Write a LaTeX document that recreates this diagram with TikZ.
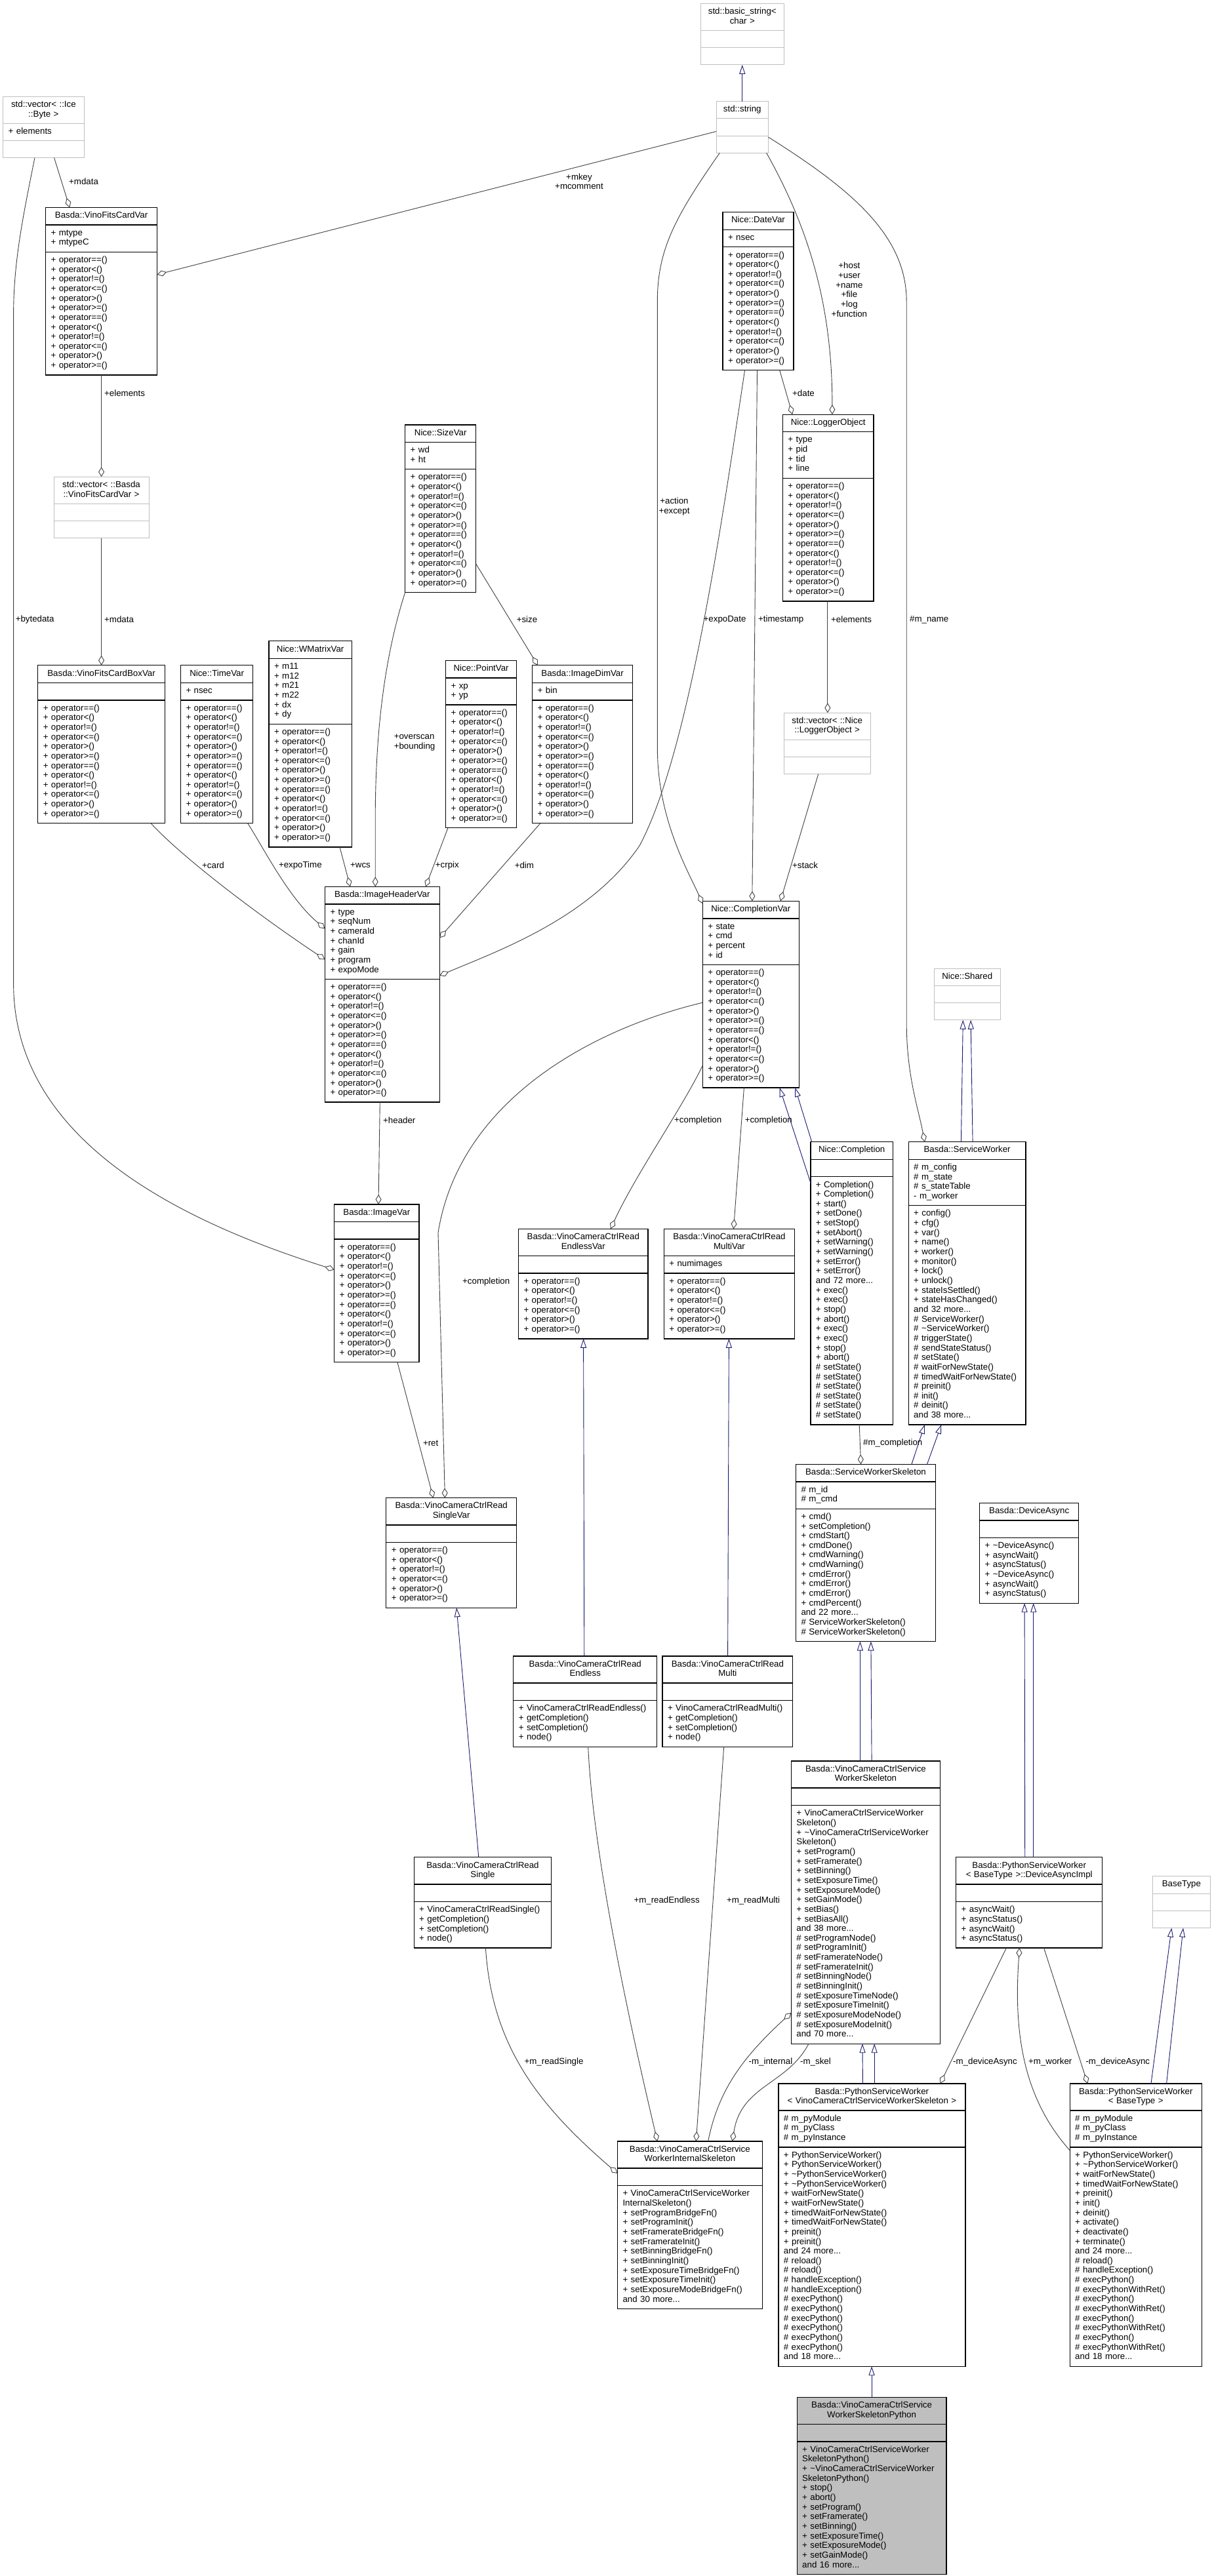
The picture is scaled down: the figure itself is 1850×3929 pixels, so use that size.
\documentclass[tikz,border=0pt]{standalone}
\usepackage{fontspec}
\setmainfont{Liberation Sans}
\usetikzlibrary{positioning,shapes.multipart,arrows.meta}

\definecolor{aggline}{HTML}{404040}
\definecolor{inhline}{HTML}{191970}
\definecolor{extgray}{HTML}{BFBFBF}
\definecolor{mainfill}{HTML}{BFBFBF}

\newcommand\umlfont{\fontsize{13.3}{14.65}\selectfont}
\newcommand\ctitle[1]{\centering\strut#1\strut\par}
\newcommand\cpart[1]{\raggedright\strut#1\strut\par}
\newcommand\tld{\textasciitilde}
\newcommand\opsix{+ operator==()\\+ operator<()\\+ operator!=()\\+ operator<=()\\+ operator>()\\+ operator>=()}
\newcommand\optwelve{\opsix\\\opsix}

\begin{document}
\begin{tikzpicture}[x=1pt,y=-1pt,
  cls/.style={rectangle split, rectangle split parts=3, draw=black, line width=1.3pt,
    fill=white, inner xsep=8pt, inner ysep=5.3pt, outer sep=0pt, anchor=north west,
    font=\umlfont},
  extcls/.style={cls, draw=extgray, line width=1pt},
  maincls/.style={cls, fill=mainfill},
  agg/.style={draw=aggline, line width=0.9pt, -{Diamond[open, length=15pt, width=9pt]}},
  inh/.style={draw=inhline, line width=0.9pt, -{Triangle[open, length=14pt, width=9pt]}},
  lbl/.style={font=\umlfont, inner sep=0pt, anchor=west}]
\useasboundingbox (0,0) rectangle (1850,3929);
\fill[white] (0,0) rectangle (1850,3929);

% classes
\node[extcls, text width=111pt] (basicstr) at (1068.3,5.5) {\ctitle{std::basic\_string<\\char >}\nodepart{two}\cpart{}\nodepart{three}\cpart{}};
\node[extcls, text width=63.6pt] (stdstr) at (1092,154.5) {\ctitle{std::string}\nodepart{two}\cpart{}\nodepart{three}\cpart{}};
\node[extcls, text width=107.3pt] (vicebyte) at (4.7,147.3) {\ctitle{std::vector< ::Ice\\::Byte >}\nodepart{two}\cpart{+ elements}\nodepart{three}\cpart{}};
\node[cls, text width=154pt] (fitscard) at (69.6,316.5) {\ctitle{Basda::VinoFitsCardVar}\nodepart{two}\cpart{+ mtype\\+ mtypeC}\nodepart{three}\cpart{\optwelve}};
\node[extcls, text width=129pt] (vfitscard) at (82,727.3) {\ctitle{std::vector< ::Basda\\::VinoFitsCardVar >}\nodepart{two}\cpart{}\nodepart{three}\cpart{}};
\node[cls, text width=177.5pt] (fitsbox) at (57.8,1014.8) {\ctitle{Basda::VinoFitsCardBoxVar}\nodepart{two}\cpart{}\nodepart{three}\cpart{\optwelve}};
\node[cls, text width=94.3pt] (timevar) at (275.5,1014.8) {\ctitle{Nice::TimeVar}\nodepart{two}\cpart{+ nsec}\nodepart{three}\cpart{\optwelve}};
\node[cls, text width=110.3pt] (wmatrix) at (410,977.8) {\ctitle{Nice::WMatrixVar}\nodepart{two}\cpart{+ m11\\+ m12\\+ m21\\+ m22\\+ dx\\+ dy}\nodepart{three}\cpart{\optwelve}};
\node[cls, text width=92pt] (sizevar) at (617.7,648) {\ctitle{Nice::SizeVar}\nodepart{two}\cpart{+ wd\\+ ht}\nodepart{three}\cpart{\optwelve}};
\node[cls, text width=92pt] (pointvar) at (679.6,1007.3) {\ctitle{Nice::PointVar}\nodepart{two}\cpart{+ xp\\+ yp}\nodepart{three}\cpart{\optwelve}};
\node[cls, text width=136.8pt] (imgdim) at (811.7,1014.8) {\ctitle{Basda::ImageDimVar}\nodepart{two}\cpart{+ bin}\nodepart{three}\cpart{\optwelve}};
\node[cls, text width=92pt] (datevar) at (1102,323.7) {\ctitle{Nice::DateVar}\nodepart{two}\cpart{+ nsec}\nodepart{three}\cpart{\optwelve}};
\node[cls, text width=122.6pt] (logobj) at (1193.4,632.2) {\ctitle{Nice::LoggerObject}\nodepart{two}\cpart{+ type\\+ pid\\+ tid\\+ line}\nodepart{three}\cpart{\optwelve}};
\node[extcls, text width=116pt] (vlogobj) at (1195.2,1087.2) {\ctitle{std::vector< ::Nice\\::LoggerObject >}\nodepart{two}\cpart{}\nodepart{three}\cpart{}};
\node[cls, text width=158.7pt] (imghdr) at (495.5,1352.4) {\ctitle{Basda::ImageHeaderVar}\nodepart{two}\cpart{+ type\\+ seqNum\\+ cameraId\\+ chanId\\+ gain\\+ program\\+ expoMode}\nodepart{three}\cpart{\optwelve}};
\node[cls, text width=130.9pt] (compvar) at (1071.3,1374.3) {\ctitle{Nice::CompletionVar}\nodepart{two}\cpart{+ state\\+ cmd\\+ percent\\+ id}\nodepart{three}\cpart{\optwelve}};
\node[extcls, text width=85.5pt] (shared) at (1424,1477) {\ctitle{Nice::Shared}\nodepart{two}\cpart{}\nodepart{three}\cpart{}};
\node[cls, text width=113.2pt] (imgvar) at (509.7,1836.9) {\ctitle{Basda::ImageVar}\nodepart{two}\cpart{}\nodepart{three}\cpart{\optwelve}};
\node[cls, text width=181.6pt] (endlessvar) at (790.5,1874.3) {\ctitle{Basda::VinoCameraCtrlRead\\EndlessVar}\nodepart{two}\cpart{}\nodepart{three}\cpart{\opsix}};
\node[cls, text width=183.4pt] (multivar) at (1012.3,1874.3) {\ctitle{Basda::VinoCameraCtrlRead\\MultiVar}\nodepart{two}\cpart{+ numimages}\nodepart{three}\cpart{\opsix}};
\node[cls, text width=109.6pt] (completion) at (1235.9,1741.7) {\ctitle{Nice::Completion}\nodepart{two}\cpart{}\nodepart{three}\cpart{+ Completion()\\+ Completion()\\+ start()\\+ setDone()\\+ setStop()\\+ setAbort()\\+ setWarning()\\+ setWarning()\\+ setError()\\+ setError()\\and 72 more...\\+ exec()\\+ exec()\\+ stop()\\+ abort()\\+ exec()\\+ exec()\\+ stop()\\+ abort()\\\# setState()\\\# setState()\\\# setState()\\\# setState()\\\# setState()\\\# setState()}};
\node[cls, text width=162.7pt] (servworker) at (1385.2,1741.7) {\ctitle{Basda::ServiceWorker}\nodepart{two}\cpart{\# m\_config\\\# m\_state\\\# s\_stateTable\\- m\_worker}\nodepart{three}\cpart{+ config()\\+ cfg()\\+ var()\\+ name()\\+ worker()\\+ monitor()\\+ lock()\\+ unlock()\\+ stateIsSettled()\\+ stateHasChanged()\\and 32 more...\\\# ServiceWorker()\\\# \tld ServiceWorker()\\\# triggerState()\\\# sendStateStatus()\\\# setState()\\\# waitForNewState()\\\# timedWaitForNewState()\\\# preinit()\\\# init()\\\# deinit()\\and 38 more...}};
\node[cls, text width=182.8pt] (singlevar) at (588.8,2284.7) {\ctitle{Basda::VinoCameraCtrlRead\\SingleVar}\nodepart{two}\cpart{}\nodepart{three}\cpart{\opsix}};
\node[cls, text width=196.9pt] (swskel) at (1213.5,2233.4) {\ctitle{Basda::ServiceWorkerSkeleton}\nodepart{two}\cpart{\# m\_id\\\# m\_cmd}\nodepart{three}\cpart{+ cmd()\\+ setCompletion()\\+ cmdStart()\\+ cmdDone()\\+ cmdWarning()\\+ cmdWarning()\\+ cmdError()\\+ cmdError()\\+ cmdError()\\+ cmdPercent()\\and 22 more...\\\# ServiceWorkerSkeleton()\\\# ServiceWorkerSkeleton()}};
\node[cls, text width=135pt] (devasync) at (1493.7,2292.3) {\ctitle{Basda::DeviceAsync}\nodepart{two}\cpart{}\nodepart{three}\cpart{+ \tld DeviceAsync()\\+ asyncWait()\\+ asyncStatus()\\+ \tld DeviceAsync()\\+ asyncWait()\\+ asyncStatus()}};
\node[cls, text width=202.9pt] (readendless) at (782.8,2525.9) {\ctitle{Basda::VinoCameraCtrlRead\\Endless}\nodepart{two}\cpart{}\nodepart{three}\cpart{+ VinoCameraCtrlReadEndless()\\+ getCompletion()\\+ setCompletion()\\+ node()}};
\node[cls, text width=182.8pt] (readmulti) at (1010,2525.9) {\ctitle{Basda::VinoCameraCtrlRead\\Multi}\nodepart{two}\cpart{}\nodepart{three}\cpart{+ VinoCameraCtrlReadMulti()\\+ getCompletion()\\+ setCompletion()\\+ node()}};
\node[cls, text width=193.5pt] (readsingle) at (631.2,2832.8) {\ctitle{Basda::VinoCameraCtrlRead\\Single}\nodepart{two}\cpart{}\nodepart{three}\cpart{+ VinoCameraCtrlReadSingle()\\+ getCompletion()\\+ setCompletion()\\+ node()}};
\node[cls, text width=211.1pt] (vccsws) at (1206.4,2685.9) {\ctitle{Basda::VinoCameraCtrlService\\WorkerSkeleton}\nodepart{two}\cpart{}\nodepart{three}\cpart{+~VinoCameraCtrlServiceWorker\\Skeleton()\\+~\tld VinoCameraCtrlServiceWorker\\Skeleton()\\+ setProgram()\\+ setFramerate()\\+ setBinning()\\+ setExposureTime()\\+ setExposureMode()\\+ setGainMode()\\+ setBias()\\+ setBiasAll()\\and 38 more...\\\# setProgramNode()\\\# setProgramInit()\\\# setFramerateNode()\\\# setFramerateInit()\\\# setBinningNode()\\\# setBinningInit()\\\# setExposureTimeNode()\\\# setExposureTimeInit()\\\# setExposureModeNode()\\\# setExposureModeInit()\\and 70 more...}};
\node[cls, text width=207pt] (devasyncimpl) at (1457.7,2832.8) {\ctitle{Basda::PythonServiceWorker\\< BaseType >::DeviceAsyncImpl}\nodepart{two}\cpart{}\nodepart{three}\cpart{+ asyncWait()\\+ asyncStatus()\\+ asyncWait()\\+ asyncStatus()}};
\node[extcls, text width=72pt] (basetype) at (1757.4,2861.8) {\ctitle{BaseType}\nodepart{two}\cpart{}\nodepart{three}\cpart{}};
\node[cls, text width=269pt] (pswskel) at (1186.9,3177.9) {\ctitle{Basda::PythonServiceWorker\\< VinoCameraCtrlServiceWorkerSkeleton >}\nodepart{two}\cpart{\# m\_pyModule\\\# m\_pyClass\\\# m\_pyInstance}\nodepart{three}\cpart{+ PythonServiceWorker()\\+ PythonServiceWorker()\\+ \tld PythonServiceWorker()\\+ \tld PythonServiceWorker()\\+ waitForNewState()\\+ waitForNewState()\\+ timedWaitForNewState()\\+ timedWaitForNewState()\\+ preinit()\\+ preinit()\\and 24 more...\\\# reload()\\\# reload()\\\# handleException()\\\# handleException()\\\# execPython()\\\# execPython()\\\# execPython()\\\# execPython()\\\# execPython()\\\# execPython()\\and 18 more...}};
\node[cls, text width=185.1pt] (pswbase) at (1631.2,3177.9) {\ctitle{Basda::PythonServiceWorker\\< BaseType >}\nodepart{two}\cpart{\# m\_pyModule\\\# m\_pyClass\\\# m\_pyInstance}\nodepart{three}\cpart{+ PythonServiceWorker()\\+ \tld PythonServiceWorker()\\+ waitForNewState()\\+ timedWaitForNewState()\\+ preinit()\\+ init()\\+ deinit()\\+ activate()\\+ deactivate()\\+ terminate()\\and 24 more...\\\# reload()\\\# handleException()\\\# execPython()\\\# execPythonWithRet()\\\# execPython()\\\# execPythonWithRet()\\\# execPython()\\\# execPythonWithRet()\\\# execPython()\\\# execPythonWithRet()\\and 18 more...}};
\node[cls, text width=204.7pt] (internal) at (941.5,3265.9) {\ctitle{Basda::VinoCameraCtrlService\\WorkerInternalSkeleton}\nodepart{two}\cpart{}\nodepart{three}\cpart{+~VinoCameraCtrlServiceWorker\\InternalSkeleton()\\+ setProgramBridgeFn()\\+ setProgramInit()\\+ setFramerateBridgeFn()\\+ setFramerateInit()\\+ setBinningBridgeFn()\\+ setBinningInit()\\+ setExposureTimeBridgeFn()\\+ setExposureTimeInit()\\+ setExposureModeBridgeFn()\\and 30 more...}};
\node[maincls, text width=211.8pt] (main) at (1215.2,3656.2) {\ctitle{Basda::VinoCameraCtrlService\\WorkerSkeletonPython}\nodepart{two}\cpart{}\nodepart{three}\cpart{+~VinoCameraCtrlServiceWorker\\SkeletonPython()\\+~\tld VinoCameraCtrlServiceWorker\\SkeletonPython()\\+ stop()\\+ abort()\\+ setProgram()\\+ setFramerate()\\+ setBinning()\\+ setExposureTime()\\+ setExposureMode()\\+ setGainMode()\\and 16 more...}};

% inheritance
\draw[inh] (stdstr.north) -- (basicstr.south);
\draw[inh] ([yshift=-62.3pt]completion.north west) -- ([xshift=117.4pt]compvar.south west);
\draw[inh] ([xshift=1.8pt]completion.north west) -- ([xshift=141pt]compvar.south west);
\draw[inh] ([xshift=80.2pt]servworker.north west) -- ([xshift=44.3pt]shared.south west);
\draw[inh] ([xshift=97.9pt]servworker.north west) -- ([xshift=56.1pt]shared.south west);
\draw[inh] ([xshift=176.4pt]swskel.north west) -- ([xshift=24.7pt]servworker.south west);
\draw[inh] ([xshift=200pt]swskel.north west) -- ([xshift=50.1pt]servworker.south west);
\draw[inh] ([xshift=108pt]readendless.north west) -- ([xshift=99.1pt]endlessvar.south west);
\draw[inh] ([xshift=99.6pt]readmulti.north west) -- ([xshift=99.1pt]multivar.south west);
\draw[inh] ([xshift=98.6pt]readsingle.north west) -- ([xshift=107.3pt]singlevar.south west);
\draw[inh] ([xshift=105pt]vccsws.north west) -- ([xshift=97.9pt]swskel.south west);
\draw[inh] ([xshift=122.7pt]vccsws.north west) -- ([xshift=114.4pt]swskel.south west);
\draw[inh] ([xshift=105pt]devasyncimpl.north west) -- ([xshift=68.4pt]devasync.south west);
\draw[inh] ([xshift=118pt]devasyncimpl.north west) -- ([xshift=82pt]devasync.south west);
\draw[inh] ([xshift=128.6pt]pswskel.north west) -- ([xshift=108.5pt]vccsws.south west);
\draw[inh] ([xshift=146.3pt]pswskel.north west) -- ([xshift=126.8pt]vccsws.south west);
\draw[inh] ([xshift=123.8pt]pswbase.north west) -- ([xshift=28.9pt]basetype.south west);
\draw[inh] ([xshift=147.4pt]pswbase.north west) -- ([xshift=46.6pt]basetype.south west);
\draw[inh] ([xshift=113.9pt]main.north west) -- ([xshift=142.2pt]pswskel.south west);

% members
\draw[agg] ([xshift=77.9pt]vicebyte.south west) -- ([xshift=36.6pt]fitscard.north west);
\draw[agg] ([yshift=-46pt]stdstr.north west) -- ([yshift=-102.3pt]fitscard.north east);
\draw[agg] ([xshift=85pt]fitscard.south west) -- ([xshift=72.6pt]vfitscard.north west);
\draw[agg] ([xshift=72.6pt]vfitscard.south west) -- ([xshift=96.8pt]fitsbox.north west);
\draw[agg] ([xshift=48.3pt]vicebyte.south west) .. controls (35,330) and (20.6,400) .. (20.6,480) -- (20.6,1500) .. controls (20.6,1750) and (300,1870) .. ([yshift=-99.7pt]imgvar.north west);
\draw[agg] (sizevar.south west) .. controls (590,990) and (572.2,1100) .. (572.2,1250) -- ([xshift=76.7pt]imghdr.north west);
\draw[agg] ([yshift=-212pt]sizevar.north east) -- ([xshift=8.3pt]imgdim.north west);
\draw[agg] ([xshift=172.2pt]fitsbox.south west) .. controls (280,1310) and (400,1400) .. ([yshift=-111pt]imghdr.north west);
\draw[agg] ([xshift=102.1pt]timevar.south west) .. controls (400,1290) and (440,1370) .. ([yshift=-64pt]imghdr.north west);
\draw[agg] ([xshift=108pt]wmatrix.south west) -- ([xshift=38.5pt]imghdr.north west);
\draw[agg] ([xshift=3.4pt]pointvar.south west) -- ([xshift=153.5pt]imghdr.north west);
\draw[agg] ([xshift=12.3pt]imgdim.south west) -- ([yshift=-78pt]imghdr.north east);
\draw[agg] ([xshift=33.6pt]datevar.south west) .. controls (1100,800) and (1050,1150) .. (975,1290) .. controls (900,1400) and (760,1450) .. ([yshift=-135.6pt]imghdr.north east);
\draw[agg] ([xshift=5.3pt]stdstr.south west) .. controls (1030,330) and (1002.3,380) .. (1002.3,460) -- (1002.3,1140) .. controls (1002.3,1250) and (1050,1330) .. ([yshift=-4pt]compvar.north west);
\draw[agg] ([xshift=52.5pt]datevar.south west) -- ([xshift=75.5pt]compvar.north west);
\draw[agg] ([xshift=76.6pt]stdstr.south west) .. controls (1240,360) and (1268.9,480) .. ([xshift=75.5pt]logobj.north west);
\draw[agg] ([xshift=86.7pt]datevar.south west) -- ([xshift=14.8pt]logobj.north west);
\draw[agg] ([xshift=68.5pt]logobj.south west) -- ([xshift=66.7pt]vlogobj.north west);
\draw[agg] ([xshift=52.5pt]vlogobj.south west) -- ([xshift=118.6pt]compvar.north west);
\draw[agg] ([yshift=-54.7pt]stdstr.north east) .. controls (1300,290) and (1382.2,360) .. (1382.2,460) -- (1382.2,1560) .. controls (1382.2,1640) and (1400,1690) .. ([xshift=24.7pt]servworker.north west);
\draw[agg] ([xshift=83.8pt]imghdr.south west) -- ([xshift=67.3pt]imgvar.north west);
\draw[agg] ([yshift=-154.9pt]compvar.north west) .. controls (900,1570) and (700,1680) .. (668,1880) -- ([xshift=89.6pt]singlevar.north west);
\draw[agg] ([yshift=-250.9pt]compvar.north west) .. controls (1040,1690) and (970,1790) .. ([xshift=140.4pt]endlessvar.north west);
\draw[agg] ([xshift=63.1pt]compvar.south west) -- ([xshift=106.2pt]multivar.north west);
\draw[agg] ([xshift=96.2pt]imgvar.south west) -- ([xshift=71.9pt]singlevar.north west);
\draw[agg] ([xshift=74.3pt]completion.south west) -- ([xshift=99.1pt]swskel.north west);
\draw[agg] ([xshift=109.2pt]readsingle.south west) .. controls (750,3120) and (820,3210) .. ([yshift=-49pt]internal.north west);
\draw[agg] ([xshift=113.9pt]readendless.south west) .. controls (905,2850) and (975,3150) .. ([xshift=60.8pt]internal.north west);
\draw[agg] ([xshift=93.7pt]readmulti.south west) -- ([xshift=119.8pt]internal.north west);
\draw[agg] ([xshift=138.1pt]internal.north west) .. controls (1095,3190) and (1130,3140) .. ([yshift=-384pt]vccsws.north west);
\draw[agg] ([xshift=26.6pt]vccsws.south west) .. controls (1200,3180) and (1130,3180) .. ([xshift=175.2pt]internal.north west);
\draw[agg] ([xshift=76.7pt]devasyncimpl.south west) -- ([xshift=246.6pt]pswskel.north west);
\draw[agg] ([yshift=-101.9pt]pswbase.north west) .. controls (1560,3200) and (1545,3100) .. ([xshift=96.8pt]devasyncimpl.south west);
\draw[agg] ([xshift=133.9pt]devasyncimpl.south west) -- ([xshift=27.1pt]pswbase.north west);

% member labels
\node[lbl] (tmdata) at (105,277) {+mdata};
\node[lbl, anchor=center, align=center] (tmkey) at (883,276.7) {+mkey\\+mcomment};
\node[lbl] (telements) at (159,599.8) {+elements};
\node[lbl] (tmdatab) at (159,945) {+mdata};
\node[lbl] (tbytedata) at (23.6,945) {+bytedata};
\node[lbl, align=left] (toverscan) at (600.6,1132.4) {+overscan\\+bounding};
\node[lbl] (tsize) at (787.6,945) {+size};
\node[lbl] (tcard) at (308,1320) {+card};
\node[lbl] (texpotime) at (424.8,1320) {+expoTime};
\node[lbl] (twcs) at (534,1320) {+wcs};
\node[lbl] (tcrpix) at (663.7,1320) {+crpix};
\node[lbl] (tdim) at (784.6,1320) {+dim};
\node[lbl] (texpodate) at (1072.5,945) {+expoDate};
\node[lbl, anchor=center, align=center] (taction) at (1028,772.4) {+action\\+except};
\node[lbl] (ttimestamp) at (1156,945) {+timestamp};
\node[lbl, anchor=center, align=center] (thost) at (1294.9,441.8) {+host\\+user\\+name\\+file\\+log\\+function};
\node[lbl] (tdate) at (1208,599.8) {+date};
\node[lbl] (telementsb) at (1267,945) {+elements};
\node[lbl] (tstack) at (1208,1320) {+stack};
\node[lbl] (tmname) at (1387,945) {\#m\_name};
\node[lbl] (theader) at (584,1708.9) {+header};
\node[lbl] (tcompa) at (705,1954.7) {+completion};
\node[lbl] (tcompb) at (1028,1708.9) {+completion};
\node[lbl] (tcompc) at (1135.6,1708.9) {+completion};
\node[lbl] (tret) at (644.8,2201) {+ret};
\node[lbl] (tmcompletion) at (1316,2201) {\#m\_completion};
\node[lbl] (treadsingle) at (799.4,3145.1) {+m\_readSingle};
\node[lbl] (treadendless) at (966.3,2898.9) {+m\_readEndless};
\node[lbl] (treadmulti) at (1107.9,2898.9) {+m\_readMulti};
\node[lbl] (tinternal) at (1141.5,3145.1) {-m\_internal};
\node[lbl] (tskel) at (1220,3145.1) {-m\_skel};
\node[lbl] (tdevasynca) at (1453,3145.1) {-m\_deviceAsync};
\node[lbl] (tworker) at (1568,3145.1) {+m\_worker};
\node[lbl] (tdevasyncb) at (1655.3,3145.1) {-m\_deviceAsync};
\end{tikzpicture}
\end{document}
